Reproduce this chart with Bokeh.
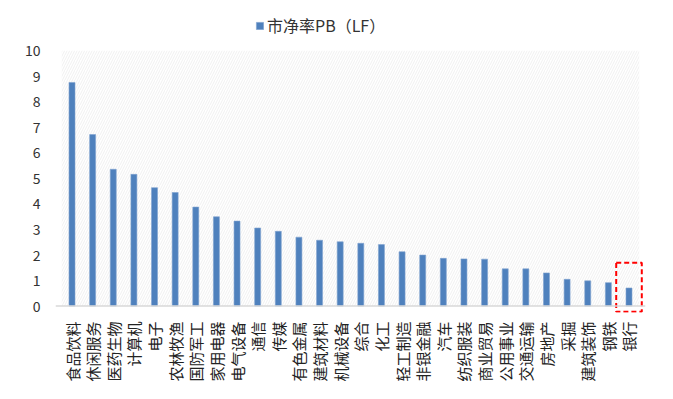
from bokeh.plotting import figure
from bokeh.models import Legend, LegendItem, BoxAnnotation, FixedTicker, ColumnDataSource, Span
from bokeh.embed import file_html
from bokeh.resources import INLINE
import math

categories = ["食品饮料", "休闲服务", "医药生物", "计算机", "电子", "农林牧渔", "国防军工",
              "家用电器", "电气设备", "通信", "传媒", "有色金属", "建筑材料", "机械设备",
              "综合", "化工", "轻工制造", "非银金融", "汽车", "纺织服装", "商业贸易",
              "公用事业", "交通运输", "房地产", "采掘", "建筑装饰", "钢铁", "银行"]
pb_values = [8.76, 6.72, 5.36, 5.16, 4.64, 4.45, 3.88, 3.50, 3.33, 3.06, 2.93, 2.70,
             2.58, 2.52, 2.46, 2.41, 2.13, 2.00, 1.87, 1.85, 1.84, 1.46, 1.46, 1.30,
             1.05, 0.99, 0.92, 0.71]
y_ticks = list(range(0, 11))
series_name = "市净率PB（LF）"
highlight = ["银行"]
highlight_top = [1.70]
highlight_bottom = [-0.22]

FONT = "Noto Sans CJK SC"

p = figure(x_range=categories, y_range=(-0.25, 11.5), frame_width=590, frame_height=300,
           output_backend="svg", toolbar_location=None,
           min_border_left=55, min_border_right=12, min_border_top=12,
           min_border_bottom=70)
p.outline_line_color = None
p.background_fill_color = "white"
p.border_fill_color = "white"
p.x_range.range_padding = 0.3
p.x_range.range_padding_units = "absolute"

# hatched plot area background (0..10)
p.add_layout(BoxAnnotation(bottom=0, top=10, left=0, right=len(categories),
                           fill_alpha=0, line_color=None,
                           hatch_pattern="/", hatch_color="#e6e6e6",
                           hatch_scale=5, hatch_weight=0.6, level="underlay"))

# category axis baseline at 0
p.add_layout(Span(location=0, dimension="width", line_color="#d9d9d9", line_width=1.5))

src = ColumnDataSource(dict(cat=categories, val=pb_values))
bars = p.vbar(x="cat", top="val", bottom=0, width=0.29, source=src,
              fill_color="#4f81bd", line_color="#7fa3d0", line_width=0.6)

# red dashed highlight box
hs = ColumnDataSource(dict(cat=highlight,
                           y=[(t + b) / 2 for t, b in zip(highlight_top, highlight_bottom)],
                           h=[t - b for t, b in zip(highlight_top, highlight_bottom)]))
p.rect(x="cat", y="y", width=1.24, height="h", source=hs, fill_alpha=0,
       line_color="#ff0000", line_width=2, line_dash="5 3")

p.xgrid.grid_line_color = None
p.ygrid.grid_line_color = None

p.yaxis.ticker = FixedTicker(ticks=y_ticks)
p.yaxis.axis_line_color = None
p.yaxis.major_tick_line_color = None
p.yaxis.minor_tick_line_color = None
p.yaxis.major_label_text_font = FONT
p.yaxis.major_label_text_font_size = "14px"
p.yaxis.major_label_text_color = "#333333"
p.yaxis.major_label_standoff = 9

p.xaxis.axis_line_color = None
p.xaxis.major_tick_line_color = None
p.xaxis.minor_tick_line_color = None
p.xaxis.major_label_orientation = math.pi / 2
p.xaxis.major_label_text_font = FONT
p.xaxis.major_label_text_font_size = "15px"
p.xaxis.major_label_text_color = "#222222"
p.xaxis.major_label_standoff = 3

legend = Legend(items=[LegendItem(label=series_name, renderers=[bars])],
                location=(200, 275), orientation="horizontal",
                label_text_font=FONT, label_text_font_size="16px",
                label_text_color="#333333", glyph_width=9, glyph_height=9,
                border_line_color=None, background_fill_alpha=0,
                padding=3, margin=0, label_standoff=3)
p.add_layout(legend, "center")

open("out.html", "w").write(file_html(p, INLINE))
